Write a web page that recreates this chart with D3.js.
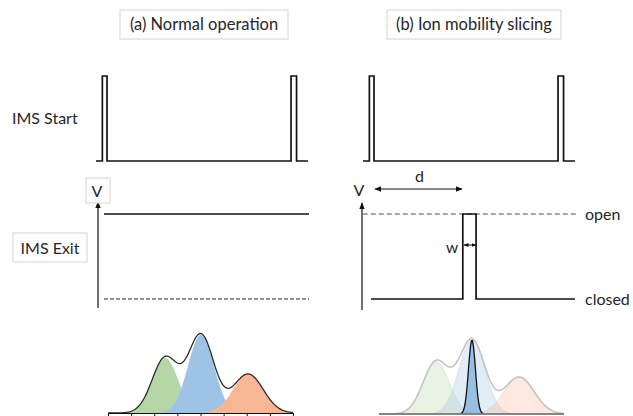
<!DOCTYPE html>
<html>
<head>
<meta charset="utf-8">
<script src="https://cdn.jsdelivr.net/npm/d3@7"></script>
<style>
  body { margin: 0; background: #fff; }
  text { font-family: Lato, "Open Sans", sans-serif; fill: #262626; }
</style>
</head>
<body>
<div id="chart"></div>
<script>
// --- data (time in % of an IMS cycle, levels 0 = low / closed, 1 = high / open)
var panelTitles = ["(a) Normal operation", "(b) Ion mobility slicing"];
var rowLabels = ["IMS Start", "IMS Exit"];
var startPulses = [[3, 5.2], [92, 94.6]];
var gateWindowsA = [[0, 100]];          // gate open all the time
var gateWindowsB = [[45, 51.5]];        // short slice
var sliceDelay = [2, 44.6];             // "d"
var sliceWidth = [45.6, 51.5];          // "w"
var gateLevelLabels = ["open", "closed"];

// mobility distribution: three species + the sliced one
var peakNames = ["green", "blue", "orange"];
var peakCenters = [2.47, 4.02, 6.06];
var peakSigmas = [0.56, 0.56, 0.65];
var peakHeights = [0.705, 1.0, 0.5];
var peakColors = ["#b5d7a5", "#9dc3e6", "#f8b794"];
var slicedCenter = 4.02, slicedSigma = 0.15, slicedHeight = 1.0;
var mobilityTicks = [0, 1, 2, 3, 4, 5, 6, 7, 8];

var width = 633, height = 416;

var svg = d3.select("#chart").append("svg")
  .attr("width", width)
  .attr("height", height);

var defs = svg.append("defs");
function marker(id, size) {
  defs.append("marker")
    .attr("id", id)
    .attr("viewBox", "0 0 10 10")
    .attr("refX", 9).attr("refY", 5)
    .attr("markerWidth", size).attr("markerHeight", size)
    .attr("markerUnits", "userSpaceOnUse")
    .attr("orient", "auto-start-reverse")
    .append("path")
    .attr("d", "M0,1 L10,5 L0,9 Z")
    .attr("fill", "#111");
}
marker("arr", 7);
marker("arrSmall", 5);

// layout of the two panels
var panels = [
  { title: panelTitles[0], box: [120, 10, 168, 29],
    startX: [96, 308], startY: [161, 76],
    exitX: [104, 309], exitY: [299, 214], axisX: 98, axisY: [308, 202],
    distX: [108, 293], distY: [413, 335], gate: gateWindowsA, sliced: false },
  { title: panelTitles[1], box: [387, 10, 174, 29],
    startX: [363, 575], startY: [161, 76],
    exitX: [371, 575], exitY: [299, 214], axisX: 362, axisY: [310, 203],
    distX: [379, 564], distY: [414, 340], gate: gateWindowsB, sliced: true }
];

function pulsePoints(windows, t0, t1) {
  var pts = [[t0, 0]];
  windows.forEach(function(w) {
    pts.push([w[0], 0], [w[0], 1], [w[1], 1], [w[1], 0]);
  });
  pts.push([t1, 0]);
  return pts;
}

function gaussian(x, c, s, h) { return h * Math.exp(-(x - c) * (x - c) / (2 * s * s)); }
var grid = d3.range(0, 8.001, 0.04);

panels.forEach(function(p) {
  var g = svg.append("g");

  // title box
  g.append("rect")
    .attr("x", p.box[0]).attr("y", p.box[1])
    .attr("width", p.box[2]).attr("height", p.box[3])
    .attr("fill", "#fff").attr("stroke", "#d4d4d4");
  g.append("text")
    .attr("x", p.box[0] + p.box[2] / 2).attr("y", p.box[1] + p.box[3] / 2)
    .attr("dy", "0.36em").attr("text-anchor", "middle")
    .style("font-size", "16.5px")
    .text(p.title);

  /* IMS start pulses */
  var sx = d3.scaleLinear().domain([0, 100]).range(p.startX);
  var sy = d3.scaleLinear().domain([0, 1]).range(p.startY);
  var line = d3.line().x(d => sx(d[0])).y(d => sy(d[1]));
  g.append("path")
    .attr("d", line(pulsePoints(startPulses, 0, 100)))
    .attr("fill", "none").attr("stroke", "#111").attr("stroke-width", 1.7);

  /* IMS exit gate */
  var ex = d3.scaleLinear().domain([0, 100]).range(p.exitX);
  var ey = d3.scaleLinear().domain([0, 1]).range(p.exitY);
  var eline = d3.line().x(d => ex(d[0])).y(d => ey(d[1]));

  g.append("line")
    .attr("x1", p.axisX).attr("x2", p.axisX)
    .attr("y1", p.axisY[0]).attr("y2", p.axisY[1])
    .attr("stroke", "#111").attr("stroke-width", 1.2)
    .attr("marker-end", "url(#arr)");

  if (!p.sliced) {
    g.append("path")
      .attr("d", eline([[0, 1], [100, 1]]))
      .attr("fill", "none").attr("stroke", "#111").attr("stroke-width", 1.7);
    g.append("path")
      .attr("d", eline([[0, 0], [100, 0]]))
      .attr("fill", "none").attr("stroke", "#222").attr("stroke-width", 1.2)
      .attr("stroke-dasharray", "4,2");
    g.append("rect")
      .attr("x", p.axisX - 12).attr("y", 178).attr("width", 24).attr("height", 25)
      .attr("fill", "#fff").attr("stroke", "#d4d4d4");
    g.append("text")
      .attr("x", p.axisX - 1).attr("y", 191).attr("dy", "0.36em")
      .attr("text-anchor", "middle").style("font-size", "16px").text("V");
  } else {
    g.append("path")
      .attr("d", eline([[-4, 1], [101, 1]]))
      .attr("fill", "none").attr("stroke", "#555").attr("stroke-width", 1)
      .attr("stroke-dasharray", "5,3");
    g.append("path")
      .attr("d", eline(pulsePoints(p.gate, 0, 100)))
      .attr("fill", "none").attr("stroke", "#111").attr("stroke-width", 1.7);
    g.append("text")
      .attr("x", p.axisX - 3).attr("y", 190).attr("dy", "0.36em")
      .attr("text-anchor", "middle").style("font-size", "16px").text("V");

    // d arrow
    g.append("line")
      .attr("x1", ex(sliceDelay[0])).attr("x2", ex(sliceDelay[1]))
      .attr("y1", 189).attr("y2", 189)
      .attr("stroke", "#111").attr("stroke-width", 1.1)
      .attr("marker-start", "url(#arr)").attr("marker-end", "url(#arr)");
    g.append("text")
      .attr("x", ex((sliceDelay[0] + sliceDelay[1]) / 2) + 1).attr("y", 176).attr("dy", "0.36em")
      .attr("text-anchor", "middle").style("font-size", "16px").text("d");

    // w arrow
    g.append("line")
      .attr("x1", ex(sliceWidth[0])).attr("x2", ex(sliceWidth[1]))
      .attr("y1", 245).attr("y2", 245)
      .attr("stroke", "#111").attr("stroke-width", 1)
      .attr("marker-start", "url(#arrSmall)").attr("marker-end", "url(#arrSmall)");
    g.append("text")
      .attr("x", ex(sliceWidth[0]) - 12).attr("y", 247).attr("dy", "0.36em")
      .attr("text-anchor", "middle").style("font-size", "15.5px").text("w");

    g.selectAll(".lvl")
      .data(gateLevelLabels).enter()
      .append("text")
      .attr("x", 585)
      .attr("y", (d, i) => ey(1 - i))
      .attr("dy", "0.36em")
      .style("font-size", "16px")
      .text(d => d);
  }

  /* mobility distribution */
  var dx = d3.scaleLinear().domain([0, 8]).range(p.distX);
  var dy = d3.scaleLinear().domain([0, 1]).range(p.distY);
  var area = d3.area().x(d => dx(d[0])).y0(dy(0)).y1(d => dy(d[1]));
  var curve = d3.line().x(d => dx(d[0])).y(d => dy(d[1]));

  var comps = peakNames.map(function(n, i) {
    return grid.map(x => [x, gaussian(x, peakCenters[i], peakSigmas[i], peakHeights[i])]);
  });
  var sum = grid.map(function(x, j) {
    return [x, d3.sum(comps, c => c[j][1])];
  });

  g.selectAll(".comp")
    .data(comps).enter()
    .append("path")
    .attr("d", area)
    .attr("fill", (d, i) => peakColors[i])
    .attr("fill-opacity", p.sliced ? 0.3 : 1)
    .attr("stroke", p.sliced ? "#bbb" : "none")
    .attr("stroke-opacity", 0.35)
    .attr("stroke-width", 1);

  g.append("path")
    .attr("d", curve(sum))
    .attr("fill", "none")
    .attr("stroke", p.sliced ? "#c4c4c4" : "#2a2a2a")
    .attr("stroke-width", p.sliced ? 1.6 : 1.3);

  if (p.sliced) {
    var slice = grid.map(x => [x, gaussian(x, slicedCenter, slicedSigma, slicedHeight)]);
    g.append("path")
      .attr("d", area(slice))
      .attr("fill", "#5b9bd5").attr("fill-opacity", 0.55)
      .attr("stroke", "#111").attr("stroke-width", 1.3);
    g.append("line")
      .attr("x1", dx(0)).attr("x2", dx(8))
      .attr("y1", dy(0)).attr("y2", dy(0))
      .attr("stroke", "#ccc").attr("stroke-width", 1);
  } else {
    var axis = d3.axisBottom(dx).tickValues(mobilityTicks).tickSize(5).tickFormat("");
    g.append("g")
      .attr("transform", `translate(0, ${dy(0)})`)
      .call(axis)
      .call(s => s.select(".domain").attr("stroke", "#111"))
      .call(s => s.selectAll(".tick line").attr("stroke", "#111"));
  }
});

// row labels
svg.append("text")
  .attr("x", 12).attr("y", 118).attr("dy", "0.36em")
  .style("font-size", "16px").text(rowLabels[0]);
svg.append("rect")
  .attr("x", 13).attr("y", 233).attr("width", 74).attr("height", 29)
  .attr("fill", "#fff").attr("stroke", "#d4d4d4");
svg.append("text")
  .attr("x", 50).attr("y", 248).attr("dy", "0.36em")
  .attr("text-anchor", "middle").style("font-size", "16px").text(rowLabels[1]);
</script>
</body>
</html>
